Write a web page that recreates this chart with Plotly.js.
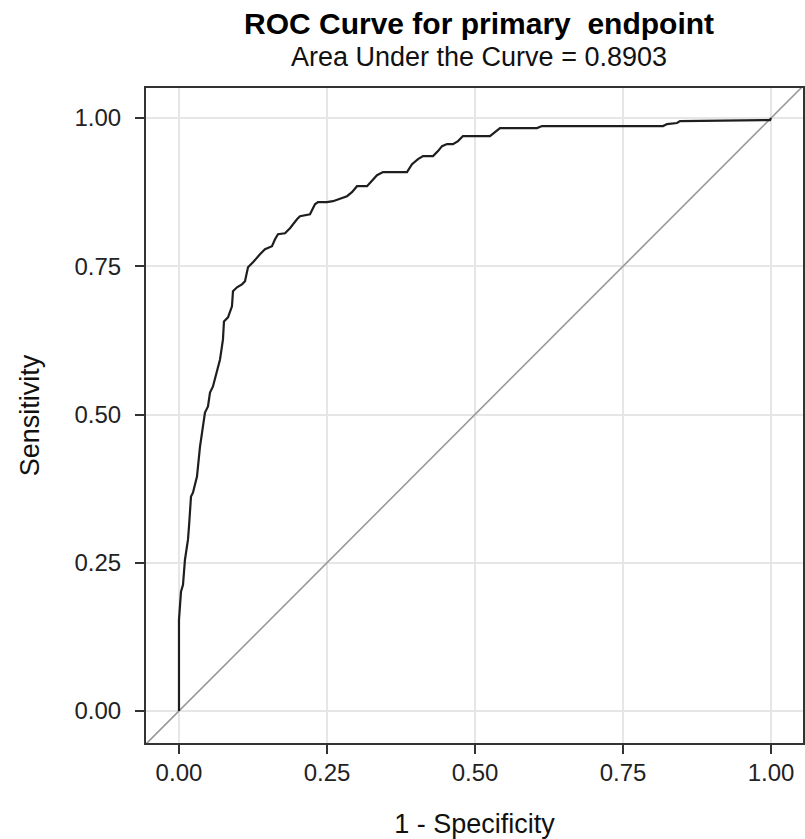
<!DOCTYPE html>
<html>
<head>
<meta charset="utf-8">
<script src="https://cdn.plot.ly/plotly-3.0.1.min.js"></script>
<style>
  html, body { margin: 0; padding: 0; background: #fff; }
  #chart { width: 805px; height: 839px; }
</style>
</head>
<body>
<div id="chart"></div>
<script>
// ROC curve: 1 - Specificity (false positive rate) vs Sensitivity
const fpr = [0, 0, 0.0034, 0.0068, 0.0101, 0.0152, 0.0169, 0.0203, 0.0236, 0.0304,
  0.0355, 0.0439, 0.0490, 0.0524, 0.0574, 0.0642, 0.0693, 0.0726, 0.0743, 0.0760,
  0.0828, 0.0895, 0.0912, 0.0980, 0.1064, 0.1115, 0.1149, 0.1166, 0.1250, 0.1318,
  0.1368, 0.1453, 0.1571, 0.1622, 0.1672, 0.1791, 0.1875, 0.1993, 0.2044, 0.2213,
  0.2297, 0.2348, 0.2500, 0.2601, 0.2686, 0.2838, 0.2922, 0.3007, 0.3176, 0.3277,
  0.3345, 0.3446, 0.3851, 0.3936, 0.4037, 0.4122, 0.4291, 0.4375, 0.4443, 0.4527,
  0.4628, 0.4713, 0.4797, 0.5253, 0.5338, 0.5422, 0.6047, 0.6132, 0.8176, 0.8243,
  0.8412, 0.8463, 0.9983, 1.0];
const tpr = [0, 0.1537, 0.2010, 0.2128, 0.2551, 0.2889, 0.3108, 0.3615, 0.3682, 0.3953,
  0.4459, 0.5034, 0.5135, 0.5372, 0.5473, 0.5709, 0.5929, 0.6149, 0.6267, 0.6571,
  0.6639, 0.6824, 0.7078, 0.7145, 0.7196, 0.7247, 0.7399, 0.7483, 0.7568, 0.7652,
  0.7703, 0.7787, 0.7838, 0.7956, 0.8041, 0.8057, 0.8142, 0.8294, 0.8345, 0.8378,
  0.8547, 0.8581, 0.8581, 0.8598, 0.8632, 0.8682, 0.8750, 0.8851, 0.8851, 0.8970,
  0.9037, 0.9088, 0.9088, 0.9223, 0.9307, 0.9358, 0.9358, 0.9443, 0.9527, 0.9561,
  0.9561, 0.9611, 0.9696, 0.9696, 0.9764, 0.9831, 0.9831, 0.9865, 0.9865, 0.9899,
  0.9916, 0.9949, 0.9966, 1.0];
// chance (reference) line y = x, spanning the whole plot area
const diagX = [-0.06, 1.06];
const diagY = [-0.06, 1.06];

const tickVals = [0, 0.25, 0.5, 0.75, 1];
const tickText = ["0.00", "0.25", "0.50", "0.75", "1.00"];

const titleText = "<b>ROC Curve for primary\u00a0 endpoint</b>";
const subtitleText = "Area Under the Curve = 0.8903";
const xTitle = "1 - Specificity";
const yTitle = "Sensitivity";

const FONT = "Liberation Sans, Arial, sans-serif";

const traces = [
  {
    x: diagX, y: diagY, type: "scatter", mode: "lines",
    line: { color: "#999999", width: 1.6 },
    hoverinfo: "skip", showlegend: false
  },
  {
    x: fpr, y: tpr, type: "scatter", mode: "lines",
    line: { color: "#1e1e1e", width: 2.2 },
    showlegend: false
  }
];

const axisCommon = {
  tickvals: tickVals, ticktext: tickText,
  ticks: "outside", ticklen: 9, tickwidth: 2, tickcolor: "#333",
  showline: true, linecolor: "#333", linewidth: 2, mirror: true,
  showgrid: true, gridcolor: "#e6e6e6", gridwidth: 2,
  zeroline: false,
  tickfont: { family: FONT, size: 24, color: "#222" }
};

const layout = {
  width: 805, height: 839,
  margin: { l: 146, r: 2, t: 88, b: 96 },
  paper_bgcolor: "#ffffff", plot_bgcolor: "#ffffff",
  font: { family: FONT, color: "#111" },
  xaxis: Object.assign({}, axisCommon, {
    range: [-0.0557, 1.054],
    ticklabelstandoff: -2,
    title: { text: xTitle, font: { family: FONT, size: 27, color: "#111" }, standoff: 29 }
  }),
  yaxis: Object.assign({}, axisCommon, {
    range: [-0.054, 1.0507],
    ticklabelstandoff: 9,
    title: { text: yTitle, font: { family: FONT, size: 27, color: "#111" }, standoff: 27 }
  }),
  annotations: [
    { text: titleText, xref: "paper", yref: "paper", x: 0.507, y: 1.099,
      xanchor: "center", yanchor: "middle", showarrow: false,
      font: { family: FONT, size: 30, color: "#000" } },
    { text: subtitleText, xref: "paper", yref: "paper", x: 0.507, y: 1.048,
      xanchor: "center", yanchor: "middle", showarrow: false,
      font: { family: FONT, size: 27, color: "#111" } }
  ]
};

Plotly.newPlot("chart", traces, layout, { displayModeBar: false, staticPlot: true });
</script>
</body>
</html>
